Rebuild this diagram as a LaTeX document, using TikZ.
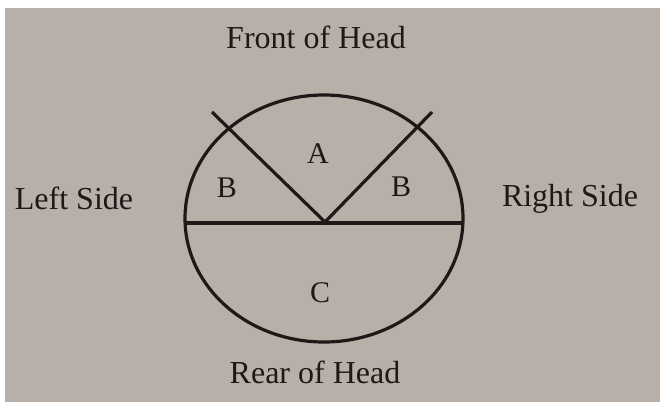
\documentclass[tikz,border=0pt]{standalone}
\usepackage{fontspec}
\setmainfont{Liberation Serif}
\usetikzlibrary{shapes.geometric}
\definecolor{paper}{RGB}{184,175,169}
\definecolor{ink}{RGB}{30,24,24}
\begin{document}
\begin{tikzpicture}[x=1pt,y=-1pt,
  lbl/.style={text=ink,font=\fontsize{32}{36}\selectfont,inner sep=0pt,anchor=base},
  reg/.style={text=ink,font=\fontsize{30}{34}\selectfont,inner sep=0pt,anchor=base},
  stroke/.style={draw=ink,line width=3.2pt}]
\useasboundingbox (0,0) rectangle (660,402);
\fill[white] (0,0) rectangle (660,402);
\fill[paper] (5,8) rectangle (660,402);
% head outline
\node[stroke,ellipse,minimum width=278pt,minimum height=247pt,inner sep=0pt] (head) at (324,218.5) {};
% dividing lines
\coordinate (L) at (185,223);
\coordinate (R) at (463,223);
\coordinate (V) at (325,222);
\coordinate (TL) at (212,112);
\coordinate (TR) at (432,112);
\draw[stroke] (L) -- (R);
\draw[stroke,line join=miter] (TL) -- (V) -- (TR);
% labels
\node[lbl] (front) at (316,48) {Front of Head};
\node[lbl] (rear) at (315,383) {Rear of Head};
\node[lbl] (left) at (74,209) {Left Side};
\node[lbl] (right) at (570,206) {Right Side};
\node[reg] (A) at (318,163) {A};
\node[reg] (B1) at (227,197) {B};
\node[reg] (B2) at (401,196) {B};
\node[reg] (C) at (320,302) {C};
\end{tikzpicture}
\end{document}
